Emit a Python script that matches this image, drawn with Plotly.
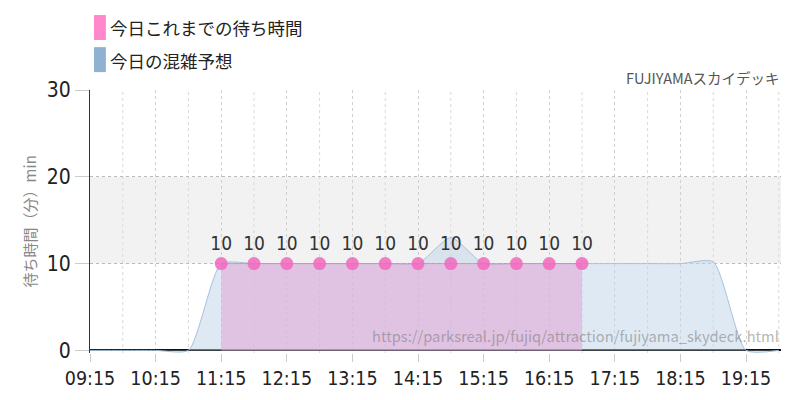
import plotly.graph_objects as go

# Forecast (blue) every 30 min
forecast_times = ["2024-01-01 09:15", "2024-01-01 09:45", "2024-01-01 10:15", "2024-01-01 10:45",
                  "2024-01-01 11:15", "2024-01-01 11:45", "2024-01-01 12:15", "2024-01-01 12:45",
                  "2024-01-01 13:15", "2024-01-01 13:45", "2024-01-01 14:15", "2024-01-01 14:45",
                  "2024-01-01 15:15", "2024-01-01 15:45", "2024-01-01 16:15", "2024-01-01 16:45",
                  "2024-01-01 17:15", "2024-01-01 17:45", "2024-01-01 18:15", "2024-01-01 18:45",
                  "2024-01-01 19:15", "2024-01-01 19:45"]
forecast_values = [0, 0, 0, 0, 10, 10, 10, 10, 10, 10, 10, 13, 10, 10, 10, 10, 10, 10, 10, 10.2, 0, 0]

# Actual (pink)
actual_times = ["2024-01-01 11:15", "2024-01-01 11:45", "2024-01-01 12:15", "2024-01-01 12:45",
                "2024-01-01 13:15", "2024-01-01 13:45", "2024-01-01 14:15", "2024-01-01 14:45",
                "2024-01-01 15:15", "2024-01-01 15:45", "2024-01-01 16:15", "2024-01-01 16:45"]
actual_values = [10, 10, 10, 10, 10, 10, 10, 10, 10, 10, 10, 10]

tick_vals = ["2024-01-01 09:15", "2024-01-01 10:15", "2024-01-01 11:15", "2024-01-01 12:15",
             "2024-01-01 13:15", "2024-01-01 14:15", "2024-01-01 15:15", "2024-01-01 16:15",
             "2024-01-01 17:15", "2024-01-01 18:15", "2024-01-01 19:15"]
tick_text = ["09:15", "10:15", "11:15", "12:15", "13:15", "14:15", "15:15", "16:15", "17:15", "18:15", "19:15"]
half_hours = ["2024-01-01 09:45", "2024-01-01 10:45", "2024-01-01 11:45", "2024-01-01 12:45",
              "2024-01-01 13:45", "2024-01-01 14:45", "2024-01-01 15:45", "2024-01-01 16:45",
              "2024-01-01 17:45", "2024-01-01 18:45", "2024-01-01 19:45"]

title_text = "FUJIYAMAスカイデッキ"
legend_actual = "今日これまでの待ち時間"
legend_forecast = "今日の混雑予想"
y_title = "待ち時間（分）min"
watermark = "https://parksreal.jp/fujiq/attraction/fujiyama_skydeck.html"

COND = "Liberation Sans Narrow, DejaVu Sans Condensed, Roboto, sans-serif"
JP = "Noto Sans CJK JP, sans-serif"

fig = go.Figure()

fig.add_trace(go.Scatter(
    x=forecast_times, y=forecast_values, mode="lines",
    line=dict(color="#a6c3dc", width=1, shape="spline", smoothing=0.6),
    fill="tozeroy", fillcolor="rgba(190,212,232,0.5)", showlegend=False, hoverinfo="skip"))

fig.add_trace(go.Scatter(
    x=actual_times, y=actual_values, mode="lines+markers+text",
    line=dict(color="rgba(240,110,190,0.7)", width=1),
    fill="tozeroy", fillcolor="rgba(225,170,215,0.6)",
    marker=dict(color="rgba(242,105,190,0.85)", size=13),
    text=[str(v) for v in actual_values], textposition="top center",
    textfont=dict(family=COND, size=19, color="#333"),
    showlegend=False, hoverinfo="skip"))

shapes = [
    dict(type="rect", xref="paper", yref="y", x0=0, x1=1, y0=10, y1=20,
         fillcolor="#f2f2f2", line_width=0, layer="below"),
]
for hh in half_hours:
    shapes.append(dict(type="line", xref="x", yref="paper", x0=hh, x1=hh, y0=0, y1=1,
                       line=dict(color="#d9d9d9", width=1, dash="3px,3px"), layer="below"))
# legend swatches
shapes.append(dict(type="rect", xref="paper", yref="paper", x0=0.0058, x1=0.023,
                   y0=1.19, y1=1.285, fillcolor="#ff88cc", line_width=0))
shapes.append(dict(type="rect", xref="paper", yref="paper", x0=0.0058, x1=0.023,
                   y0=1.068, y1=1.163, fillcolor="#8fb2d0", line_width=0))

annotations = [
    dict(text=legend_actual, xref="paper", yref="paper", x=0.026, y=1.236, xanchor="left",
         yanchor="middle", showarrow=False, font=dict(family=JP, size=17.5, color="#222")),
    dict(text=legend_forecast, xref="paper", yref="paper", x=0.026, y=1.114, xanchor="left",
         yanchor="middle", showarrow=False, font=dict(family=JP, size=17.5, color="#222")),
    dict(text=title_text, xref="paper", yref="paper", x=1.0, y=1.0, xanchor="right", xshift=1,
         yanchor="bottom", showarrow=False, yshift=0, font=dict(family=JP, size=14.5, color="#555")),
    dict(text=watermark, xref="paper", yref="paper", x=1.0, y=0.02, xanchor="right", xshift=0,
         yanchor="bottom", showarrow=False, font=dict(family=JP, size=14.7, color="rgba(120,120,120,0.55)")),
]

# page body has an 8px margin: offset figure margins so the plot area lands at 90..781 x 90..353
fig.update_layout(
    width=800, height=400, margin=dict(l=82, r=27, t=82, b=55, autoexpand=False),
    paper_bgcolor="white", plot_bgcolor="white",
    shapes=shapes, annotations=annotations, showlegend=False,
    xaxis=dict(range=["2024-01-01 09:15", "2024-01-01 19:47"], tickvals=tick_vals, ticktext=tick_text,
               automargin=False,
               showgrid=True, gridcolor="#d0d0d0", griddash="dot", gridwidth=1,
               ticks="outside", ticklen=8, tickcolor="#cccccc",
               showline=False, zeroline=False,
               tickfont=dict(family=COND, size=19.5, color="#222")),
    yaxis=dict(range=[-0.3, 30], tickvals=[0, 10, 20, 30], automargin=False,
               showgrid=True, gridcolor="#bbbbbb", griddash="dot", gridwidth=1,
               ticks="outside", ticklen=14, tickcolor="#cccccc",
               showline=True, linecolor="#333", linewidth=1, zeroline=True,
               zerolinecolor="#111", zerolinewidth=1.5,
               tickfont=dict(family=COND, size=21, color="#222")),
)
fig.add_annotation(text=y_title, xref="paper", yref="paper", x=-0.087, y=0.5, textangle=-90,
                   showarrow=False, xanchor="center", yanchor="middle",
                   font=dict(family=JP, size=15, color="#888"))

fig.write_html("out.html")
